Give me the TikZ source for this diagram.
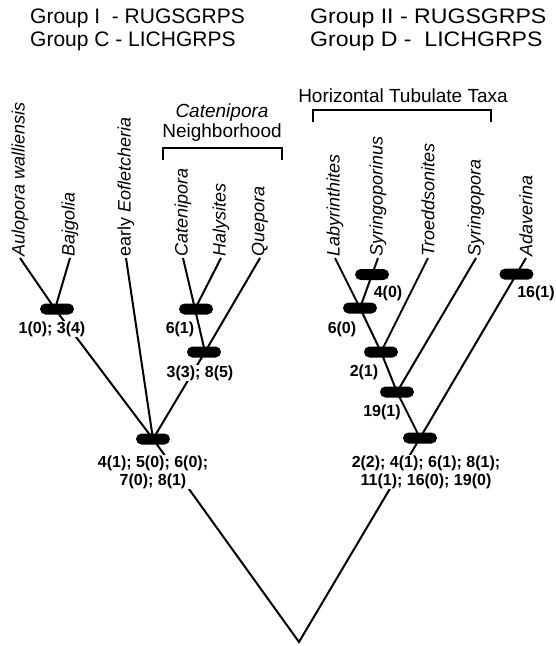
\documentclass[tikz,border=0pt]{standalone}
\usepackage{fontspec}
\setmainfont{Liberation Sans}
\usetikzlibrary{shapes.misc}

\begin{document}
\begin{tikzpicture}[x=1pt, y=-1pt,
		head/.style={anchor=base west, inner sep=0pt, font=\fontsize{21}{23}\selectfont},
		group/.style={inner sep=0pt, font=\fontsize{19}{21}\selectfont},
		taxon/.style={rotate=90, anchor=west, inner sep=1.5pt, font=\fontsize{18}{18}\selectfont\itshape},
		bar/.style={rounded rectangle, fill=black, minimum width=34pt, minimum height=11pt, inner sep=0pt},
		state/.style={fill=white, inner sep=1pt, align=center, font=\fontsize{16}{18}\selectfont\bfseries},
		branch/.style={line width=2pt}]
			%%%%% START %%%%%
			
			\useasboundingbox[fill=white] (0,0) rectangle (555,646);
			
			\node[head] (g1) at (30,23) {Group I\ \ - RUGSGRPS};
			\node[head] (g2) at (30,46) {Group C - LICHGRPS};
			\node[head] (g3) at (310,23) {\scalebox{1.1}[1]{Group II - RUGSGRPS}};
			\node[head] (g4) at (310,46) {\scalebox{1.1}[1]{Group D -\ \ LICHGRPS}};
			
			\node[group] (catn) at (222,113) {\itshape Catenipora};
			\node[group] (nbh) at (222,133) {Neighborhood};
			\draw[line width=1.3pt] (163,160) -- (163,148) -- (282,148) -- (282,160);
			
			\node[group] (htt) at (403,96) {Horizontal Tubulate Taxa};
			\draw[line width=1.3pt] (313,122) -- (313,110) -- (491,110) -- (491,122);
			
			\node[taxon] (aul) at (20,258) {Aulopora walliensis};
			\node[taxon] (baj) at (70,258) {Bajgolia};
			\node[taxon] (eof) at (126,258) {\upshape early \itshape Eofletcheria};
			\node[taxon] (cat) at (183,258) {Catenipora};
			\node[taxon] (hal) at (221,258) {Halysites};
			\node[taxon] (que) at (260,258) {Quepora};
			\node[taxon] (lab) at (335,258) {Labyrinthites};
			\node[taxon] (syp) at (378,258) {Syringoporinus};
			\node[taxon] (tro) at (428,258) {Troeddsonites};
			\node[taxon] (syr) at (476,258) {Syringopora};
			\node[taxon] (ada) at (526,258) {Adaverina};
			
			\coordinate (jA) at (55,309);
			\coordinate (jC) at (195,309);
			\coordinate (jQ) at (205,352);
			\coordinate (jL) at (153,439);
			\coordinate (j60) at (360,308);
			\coordinate (j21) at (381,352);
			\coordinate (j19) at (397,392);
			\coordinate (jR) at (420,438);
			\coordinate (root) at (299,642);
			
			% left group
			\draw[branch] (aul.west) -- (jA);
			\draw[branch] (baj.west) -- (jA);
			\draw[branch] (jA) -- (jL);
			\draw[branch] (eof.west) -- (jL);
			\draw[branch] (cat.west) -- (jC) -- (jQ);
			\draw[branch] (hal.west) -- (jC);
			\draw[branch] (que.west) -- (jQ);
			\draw[branch] (jQ) -- (jL);
			
			% right group
			\draw[branch] (lab.west) -- (j60) -- (j21) -- (j19) -- (jR);
			\draw[branch] (syp.west) -- node[bar, pos=.33] (b40) {} (j60);
			\draw[branch] (tro.west) -- (j21);
			\draw[branch] (syr.west) -- (j19);
			\draw[branch] (ada.west) -- node[bar, pos=.09] (b161) {} (jR);
			
			\draw[branch] (jL) -- (root) -- (jR);
			
			\node[bar] (bA) at (57,309) {};
			\node[bar] (bC) at (196,309) {};
			\node[bar] (bQ) at (204,352) {};
			\node[bar] (bL) at (153,439) {};
			\node[bar] (b60) at (j60) {};
			\node[bar] (b21) at (j21) {};
			\node[bar] (b19) at (j19) {};
			\node[bar] (bR) at (jR) {};
			
			\node[state] (s1) at (52,329) {1(0); 3(4)};
			\node[state] (s61) at (180,329) {6(1)};
			\node[state] (s33) at (200,373) {3(3); 8(5)};
			\node[state] (sL) at (153,472) {4(1); 5(0); 6(0);\\7(0); 8(1)};
			\node[state] (s40) at (388,293) {4(0)};
			\node[state] (s161) at (536,293) {16(1)};
			\node[state] (s60) at (342,329) {6(0)};
			\node[state] (s21) at (364,372) {2(1)};
			\node[state] (s19) at (382,412) {19(1)};
			\node[state] (sR) at (426,472) {2(2); 4(1); 6(1); 8(1);\\11(1); 16(0); 19(0)};
			
			%%%%% END %%%%%
\end{tikzpicture}
\end{document}
